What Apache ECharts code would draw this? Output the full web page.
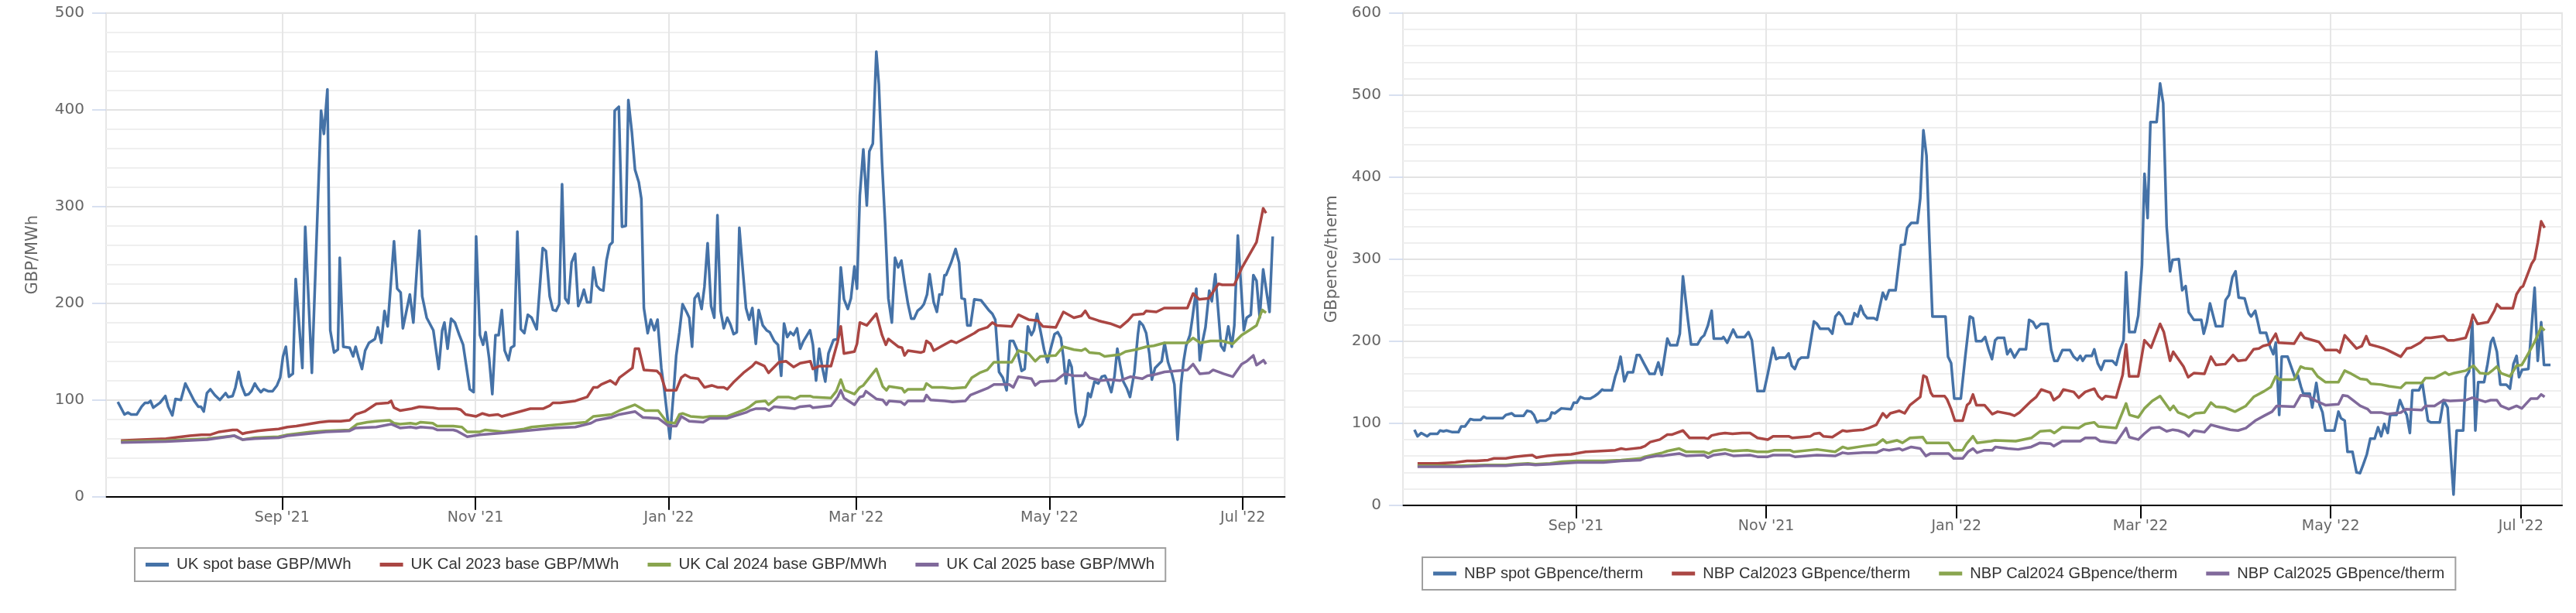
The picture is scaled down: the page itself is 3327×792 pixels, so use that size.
<!DOCTYPE html>
<html><head><meta charset="utf-8">
<script src="https://cdn.jsdelivr.net/npm/echarts@6/dist/echarts.min.js"></script>
<style>html,body{margin:0;padding:0;background:#fff}#c{width:3327px;height:792px}</style>
</head><body><div id="c"></div>
<script>
// x value of every point: days after 1 Sep 2021
const ukSpot = [[-51.8,98],[-49.7,85],[-48.6,87],[-47.6,85],[-45.8,85],[-44.3,93],[-43.2,97],[-42.2,97],[-41.5,99],[-40.6,92],[-38.5,97],[-36.8,104],[-35.9,93],[-34.6,84],[-33.6,101],[-31.9,100],[-30.5,117],[-29.1,108],[-27.7,99],[-26.4,93],[-25.6,93],[-24.7,88],[-23.7,107],[-22.6,111],[-21.2,105],[-19.6,100],[-17.8,107],[-17.0,103],[-15.6,104],[-14.7,113],[-13.7,129],[-12.8,115],[-11.6,105],[-10.5,106],[-9.7,109],[-8.6,117],[-7.7,112],[-6.7,108],[-5.8,111],[-4.4,109],[-3.0,109],[-1.6,115],[-0.6,123],[0.3,145],[1.2,155],[2.2,124],[3.4,127],[4.3,225],[6.4,133],[7.3,279],[9.4,128],[12.3,399],[13.2,375],[14.3,421],[15.2,172],[16.4,149],[17.6,152],[18.2,247],[19.3,155],[21.3,154],[22.4,145],[23.2,155],[24.1,144],[25.2,132],[26.2,151],[27.4,159],[29.3,163],[30.2,175],[31.3,159],[32.3,192],[33.3,176],[35.3,264],[36.3,215],[37.4,211],[38.1,174],[40.3,209],[41.4,180],[43.3,275],[44.2,207],[45.6,185],[47.7,172],[49.4,132],[50.5,172],[51.2,180],[52.2,153],[53.3,184],[54.5,180],[55.9,167],[57.1,157],[59.2,111],[60.4,108],[61.2,269],[62.4,167],[63.4,157],[64.2,170],[65.3,143],[66.3,106],[67.3,167],[68.3,167],[69.3,193],[70.2,151],[71.4,141],[72.2,154],[73.2,156],[74.2,274],[75.3,173],[76.4,169],[77.5,188],[78.7,185],[80.3,173],[82.2,257],[83.2,254],[84.4,207],[85.4,193],[86.4,192],[87.4,199],[88.3,323],[89.3,205],[90.3,200],[91.3,242],[92.4,251],[93.4,197],[94.3,204],[95.2,214],[96.2,201],[97.3,201],[98.2,237],[99.2,218],[100.3,214],[101.3,213],[102.3,244],[103.3,260],[104.2,263],[104.9,399],[106.2,403],[107.2,279],[108.4,280],[109.2,410],[110.3,377],[111.3,338],[112.5,325],[113.3,308],[114.1,195],[115.3,169],[116.3,183],[117.4,172],[118.4,183],[119.6,133],[120.6,109],[122.3,60],[123.5,109],[124.3,146],[125.3,170],[126.3,199],[127.7,190],[128.4,185],[129.3,155],[130.1,205],[131.2,210],[132.3,194],[133.2,217],[134.2,262],[135.3,197],[136.3,185],[137.3,291],[138.3,192],[139.3,174],[140.4,185],[141.4,178],[142.4,168],[143.4,170],[144.2,278],[145.3,234],[146.3,195],[147.3,183],[148.3,195],[149.4,158],[150.3,193],[151.6,177],[152.8,172],[153.8,170],[155.2,161],[156.4,157],[157.4,125],[158.3,179],[159.3,165],[160.3,170],[161.3,167],[162.4,174],[163.4,153],[164.3,160],[166.5,172],[167.4,157],[168.4,120],[169.4,153],[170.4,133],[171.3,119],[172.3,148],[173.9,162],[175.2,163],[176.2,237],[177.2,204],[178.4,194],[179.4,205],[180.5,238],[181.3,215],[182.2,311],[183.3,359],[184.4,301],[185.2,357],[186.3,365],[187.4,460],[188.2,426],[189.2,345],[190.2,281],[191.2,205],[192.3,180],[193.3,247],[194.3,237],[195.3,244],[196.3,221],[197.4,199],[198.4,184],[199.3,184],[200.4,192],[201.5,195],[202.4,199],[203.4,209],[204.2,230],[205.5,201],[206.5,191],[207.3,209],[208.1,209],[208.9,229],[209.4,229],[211.0,242],[212.4,256],[213.5,242],[214.3,205],[215.3,204],[216.1,177],[217.1,177],[218.3,204],[220.4,203],[222.8,193],[224.0,189],[224.9,183],[226.1,129],[227.3,123],[228.5,110],[229.5,161],[230.6,161],[231.8,152],[233.2,130],[234.2,132],[235.2,176],[236.3,167],[237.1,172],[238.1,189],[239.3,169],[240.3,152],[241.4,139],[242.4,153],[243.6,168],[244.6,170],[245.6,164],[246.4,144],[247.2,117],[248.2,141],[249.0,134],[249.5,116],[250.3,87],[251.3,72],[252.3,75],[253.3,84],[254.2,107],[255.0,103],[256.2,119],[257.4,117],[258.5,124],[259.5,125],[260.4,119],[261.5,108],[262.5,124],[263.4,153],[264.3,136],[265.3,119],[266.4,112],[267.4,103],[268.8,129],[269.9,168],[270.4,181],[271.5,177],[272.5,169],[273.5,148],[274.3,121],[275.3,133],[276.5,137],[277.4,140],[278.3,159],[279.4,139],[280.6,127],[281.4,116],[282.4,59],[283.5,116],[284.3,140],[285.1,156],[286.3,167],[287.1,185],[288.3,215],[289.4,141],[290.2,159],[291.2,175],[292.4,213],[293.2,202],[294.3,230],[296.1,156],[297.1,151],[298.4,176],[299.5,155],[300.3,177],[301.4,270],[303.3,172],[304.2,185],[305.5,188],[306.3,229],[307.3,223],[308.3,185],[309.4,235],[311.4,191],[312.4,269]];
const ukCal2023 = [[-50.8,58],[-44.1,59],[-36.6,60],[-29.1,63],[-25.4,64],[-22.6,64],[-19.8,67],[-15.6,69],[-14.2,69],[-12.5,65],[-11.4,66],[-7.7,68],[-4.8,69],[-1.1,70],[1.7,72],[4.5,73],[8.2,75],[11.9,77],[14.8,78],[18.5,78],[21.3,79],[23.2,85],[26.0,88],[29.7,96],[33.5,97],[34.4,99],[35.3,92],[37.2,89],[40.9,91],[43.3,93],[47.5,92],[49.3,91],[55.0,91],[56.3,90],[57.9,85],[61.2,83],[63.2,86],[65.3,84],[68.1,85],[69.3,83],[75.0,88],[78.3,91],[82.4,91],[84.4,94],[85.4,97],[87.7,97],[92.5,99],[96.2,103],[98.2,113],[99.5,113],[100.7,116],[103.5,120],[105.2,116],[106.4,123],[110.5,133],[111.3,153],[112.5,153],[114.1,131],[118.2,130],[119.4,126],[121.0,110],[124.3,110],[125.9,123],[127.1,126],[128.8,123],[131.2,122],[133.2,113],[135.5,115],[137.3,113],[139.3,113],[140.4,111],[142.6,119],[145.5,128],[148.3,135],[149.4,139],[152.1,135],[153.4,128],[156.7,139],[158.9,140],[161.3,134],[163.4,138],[166.6,140],[167.4,132],[169.5,135],[173.1,135],[175.2,160],[176.2,176],[177.2,148],[180.5,150],[181.3,158],[182.2,180],[184.4,177],[187.4,189],[189.2,167],[190.4,157],[191.2,163],[194.3,155],[195.5,154],[196.3,146],[197.4,151],[201.5,149],[202.4,150],[203.2,161],[204.5,158],[205.5,151],[208.2,156],[211.0,161],[212.6,159],[215.5,164],[218.3,169],[219.6,172],[222.4,175],[224.0,180],[225.4,177],[230.1,176],[232.2,188],[235.4,183],[238.3,182],[239.9,176],[244.0,175],[246.4,191],[249.7,185],[252.1,187],[253.3,192],[254.6,185],[257.4,182],[258.5,181],[261.1,179],[264.3,175],[266.8,182],[268.4,188],[271.7,189],[272.5,192],[275.7,191],[278.2,195],[285.5,195],[287.3,210],[289.2,204],[292.2,205],[295.3,220],[296.5,219],[300.3,219],[302.6,236],[307.3,263],[309.4,298],[310.3,293]];
const ukCal2024 = [[-50.8,57],[-36.6,58],[-23.6,60],[-15.1,63],[-12.5,59],[-8.6,61],[-1.1,62],[1.7,64],[9.2,67],[13.8,68],[21.3,69],[23.7,75],[26.9,77],[29.7,78],[33.9,79],[35.3,76],[37.2,75],[40.5,76],[42.3,75],[43.7,77],[47.5,76],[48.9,73],[54.0,73],[56.7,72],[58.4,67],[62.4,67],[64.1,69],[69.8,67],[76.3,70],[78.7,72],[85.2,74],[92.5,76],[95.8,77],[98.2,83],[103.9,85],[106.4,89],[111.3,95],[114.5,89],[118.6,89],[121.4,77],[123.9,76],[125.3,85],[126.3,86],[128.8,83],[132.8,82],[134.9,83],[140.4,83],[145.9,90],[147.5,93],[149.5,98],[152.4,99],[153.4,95],[156.4,103],[159.7,103],[161.7,101],[163.4,104],[166.5,104],[167.4,103],[173.1,102],[174.8,109],[176.2,121],[177.4,110],[180.5,106],[182.2,113],[183.3,115],[187.4,132],[189.4,114],[190.6,110],[191.4,114],[195.5,112],[196.3,108],[197.4,111],[202.4,111],[203.2,117],[204.9,113],[208.2,113],[211.4,112],[215.5,113],[217.5,123],[220.0,128],[222.4,131],[224.5,139],[230.1,139],[232.2,151],[235.4,148],[237.5,140],[239.1,145],[244.0,146],[246.3,155],[249.7,152],[252.1,151],[253.3,153],[254.6,149],[257.8,148],[259.4,145],[264.3,147],[266.0,150],[269.2,152],[272.5,155],[274.9,156],[278.3,159],[285.5,159],[287.3,164],[289.6,159],[292.8,161],[296.5,161],[299.8,158],[302.6,167],[305.0,172],[307.3,177],[309.1,193],[310.3,190]];
const ukCal2025 = [[-50.8,56],[-36.6,57],[-23.6,59],[-15.1,63],[-12.5,59],[-8.6,60],[-1.1,61],[1.7,63],[13.8,67],[21.3,68],[23.2,71],[29.7,72],[34.4,75],[37.2,71],[40.5,72],[42.3,71],[43.7,72],[47.5,71],[48.9,69],[54.0,69],[55.1,68],[58.4,62],[62.4,64],[69.8,66],[76.3,68],[86.0,71],[92.5,72],[97.4,76],[99.1,79],[103.9,82],[106.4,85],[111.3,88],[113.7,82],[118.6,81],[121.9,73],[124.3,73],[125.9,83],[128.4,78],[132.8,77],[134.9,81],[140.4,81],[146.3,87],[147.5,89],[149.5,91],[152.4,91],[153.6,89],[155.2,93],[161.7,91],[163.4,93],[166.5,94],[167.4,92],[173.1,94],[175.2,103],[176.2,110],[177.2,102],[180.5,95],[182.2,103],[183.3,104],[184.1,109],[187.4,101],[189.4,100],[190.6,95],[191.4,99],[195.1,98],[196.3,95],[197.4,99],[202.4,99],[203.2,105],[204.5,100],[209.0,99],[211.4,98],[215.5,99],[217.1,105],[222.4,112],[224.5,116],[229.3,116],[230.6,113],[232.2,124],[236.3,122],[237.5,115],[239.1,119],[244.0,120],[246.8,127],[249.7,125],[252.9,125],[253.3,128],[254.6,123],[258.2,120],[261.1,121],[264.3,120],[267.6,124],[271.3,122],[272.9,125],[274.9,126],[278.3,129],[285.5,131],[287.3,137],[289.4,127],[292.4,128],[293.6,131],[296.9,127],[299.8,124],[302.6,137],[304.2,140],[306.3,146],[307.3,136],[309.5,141],[310.3,137]];

const nbpSpot = [[-51.8,92],[-50.8,84],[-49.6,88],[-47.7,84],[-46.7,87],[-44.4,87],[-43.6,91],[-42.5,90],[-41.5,91],[-39.6,89],[-37.7,89],[-36.8,96],[-35.6,96],[-33.9,105],[-32.8,104],[-30.6,104],[-29.6,108],[-28.7,106],[-27.3,106],[-26.3,106],[-23.5,106],[-22.5,110],[-20.6,112],[-19.7,109],[-16.8,109],[-15.7,115],[-14.4,114],[-13.5,110],[-12.5,101],[-11.6,103],[-9.7,103],[-8.4,106],[-7.8,113],[-6.8,112],[-4.7,118],[-1.6,117],[-0.7,125],[0.3,125],[1.4,132],[2.7,130],[4.6,130],[6.0,133],[7.1,136],[8.4,141],[9.0,140],[11.5,140],[12.6,157],[13.4,166],[14.3,181],[15.5,151],[16.6,162],[18.3,162],[19.5,183],[20.4,183],[21.9,172],[23.6,160],[25.2,160],[26.4,174],[27.5,159],[29.3,203],[30.2,195],[32.4,195],[33.3,209],[34.3,279],[35.9,226],[36.9,196],[39.0,196],[40.2,204],[41.1,207],[42.3,219],[43.5,237],[44.2,203],[46.8,203],[47.3,205],[48.5,198],[50.4,214],[51.6,205],[54.1,205],[55.3,211],[56.4,201],[58.2,139],[60.3,139],[61.5,160],[63.2,192],[64.2,178],[65.3,180],[67.2,180],[68.2,185],[69.2,170],[70.2,166],[71.3,177],[72.3,180],[74.4,180],[76.3,224],[77.3,221],[78.3,215],[81.0,215],[82.2,209],[83.2,230],[84.3,235],[85.4,230],[86.4,221],[88.4,221],[89.3,234],[90.3,230],[91.3,243],[92.3,233],[93.4,228],[95.5,228],[96.5,226],[98.4,259],[99.4,251],[100.4,262],[102.5,262],[104.2,317],[105.4,318],[106.2,338],[107.5,344],[109.5,344],[110.4,374],[111.4,457],[112.4,426],[113.3,326],[114.3,230],[118.5,230],[119.3,181],[120.3,173],[121.3,130],[123.4,130],[124.8,180],[126.3,230],[127.3,228],[128.3,200],[130.1,200],[131.2,205],[132.3,190],[133.4,178],[134.4,201],[135.2,204],[137.3,204],[138.3,184],[139.3,190],[140.6,180],[142.2,190],[144.3,190],[145.3,226],[146.6,223],[147.6,216],[149.1,221],[151.3,221],[152.4,189],[153.4,176],[154.4,176],[156.0,189],[158.4,189],[159.6,181],[160.8,177],[161.7,182],[162.5,176],[163.5,182],[165.4,182],[166.2,190],[167.3,173],[168.4,165],[169.5,176],[172.0,176],[173.2,171],[174.5,190],[175.6,201],[176.4,284],[177.4,211],[179.2,211],[180.3,231],[181.5,293],[182.3,404],[183.3,350],[184.2,467],[186.2,467],[187.3,514],[188.3,490],[189.4,340],[190.5,285],[191.3,299],[193.3,300],[194.4,262],[195.5,267],[196.5,235],[198.1,226],[200.5,226],[201.3,209],[202.3,223],[203.3,246],[205.2,218],[207.3,218],[208.3,250],[209.4,256],[210.5,278],[211.5,285],[212.5,253],[214.4,252],[215.7,234],[216.5,230],[217.8,237],[218.6,224],[219.4,210],[221.3,210],[222.5,194],[223.6,184],[224.4,198],[225.5,110],[226.3,181],[228.2,181],[229.4,168],[230.7,154],[231.5,158],[232.5,144],[233.2,136],[235.3,136],[236.1,119],[237.4,149],[238.4,123],[239.4,113],[240.3,91],[243.2,91],[244.5,114],[245.3,106],[246.5,103],[247.4,65],[249.0,65],[250.3,40],[251.4,39],[252.5,50],[253.6,62],[254.7,81],[256.1,81],[257.2,95],[258.2,84],[259.2,99],[260.3,88],[261.1,110],[263.1,110],[264.2,128],[265.3,118],[266.4,110],[267.4,88],[268.2,140],[270.3,140],[271.4,149],[273.2,103],[274.1,101],[277.0,101],[278.2,128],[279.5,119],[281.4,13],[282.4,91],[284.5,91],[285.3,156],[286.4,163],[287.4,224],[288.4,91],[289.3,150],[291.2,150],[292.3,172],[293.4,199],[294.1,204],[295.3,187],[296.4,147],[298.3,147],[299.5,142],[300.6,172],[301.6,182],[302.4,156],[303.4,165],[305.4,166],[307.4,265],[308.4,176],[309.5,223],[310.4,171],[312.5,171]];
const nbpCal2023 = [[-50.8,51],[-44.4,51],[-38.7,52],[-34.9,54],[-32.0,54],[-28.2,55],[-26.3,57],[-22.5,57],[-19.7,59],[-16.8,60],[-14.0,61],[-12.7,58],[-11.3,59],[-9.2,60],[-6.4,61],[-1.6,62],[3.1,65],[7.9,66],[12.6,67],[14.5,69],[16.0,68],[20.7,70],[22.1,72],[23.8,77],[26.9,80],[29.3,86],[30.7,86],[34.3,91],[36.4,82],[41.1,82],[42.3,81],[43.5,85],[45.9,87],[47.8,88],[50.2,87],[53.3,88],[55.8,88],[56.6,86],[58.2,82],[61.5,80],[63.2,84],[68.2,84],[69.4,82],[75.2,84],[76.4,87],[78.1,88],[79.3,84],[82.2,83],[85.5,91],[86.8,90],[88.9,91],[92.2,92],[93.8,94],[96.3,98],[98.4,112],[99.6,107],[100.8,112],[103.7,115],[105.4,112],[107.1,122],[110.4,132],[111.4,158],[112.4,156],[113.8,137],[114.5,133],[118.2,133],[119.0,129],[120.3,117],[121.5,103],[124.0,103],[125.4,122],[126.3,125],[127.3,135],[128.4,122],[131.0,122],[133.5,111],[135.2,114],[139.3,111],[140.6,109],[142.2,113],[146.0,127],[147.6,132],[149.2,141],[152.1,137],[153.2,128],[155.0,133],[156.3,141],[159.6,138],[161.2,131],[163.3,138],[166.2,142],[167.5,133],[168.7,129],[169.8,133],[173.2,131],[175.3,159],[176.4,196],[177.4,157],[180.3,157],[182.3,201],[184.4,192],[187.3,221],[188.5,211],[190.5,176],[191.5,187],[194.8,169],[196.3,156],[198.1,161],[201.5,160],[203.6,181],[205.2,171],[208.2,172],[210.7,183],[212.3,176],[214.8,177],[217.3,190],[219.0,191],[220.3,194],[222.3,196],[224.4,209],[225.3,198],[230.3,197],[232.4,210],[233.6,204],[238.2,199],[240.3,189],[244.0,189],[244.9,186],[246.5,207],[250.3,191],[252.0,194],[253.4,206],[254.5,196],[257.4,193],[259.1,191],[260.3,189],[264.5,181],[266.4,191],[267.8,192],[270.7,198],[272.4,204],[274.1,204],[278.2,206],[279.5,201],[281.6,201],[285.3,204],[286.8,220],[287.6,232],[289.1,221],[292.4,223],[294.5,237],[295.3,245],[296.6,240],[300.4,240],[301.6,257],[302.9,265],[303.7,267],[306.4,294],[307.4,300],[308.4,320],[309.5,346],[310.6,338]];
const nbpCal2024 = [[-50.8,48],[-44.4,48],[-36.8,48],[-29.2,49],[-22.5,49],[-19.7,50],[-15.4,51],[-13.0,50],[-8.3,51],[-4.5,53],[0.3,54],[5.0,54],[8.8,54],[14.5,55],[20.7,57],[22.1,59],[25.5,62],[27.8,64],[29.3,66],[33.1,69],[35.4,65],[41.1,65],[42.6,63],[44.0,66],[47.8,68],[50.2,66],[54.9,67],[58.2,65],[61.5,65],[63.6,67],[68.6,67],[69.8,65],[77.3,68],[83.1,65],[85.5,71],[87.2,69],[92.2,72],[96.3,74],[98.4,80],[99.6,76],[102.9,79],[104.7,76],[107.1,82],[111.2,83],[112.4,76],[119.5,76],[121.1,67],[124.0,67],[125.3,75],[127.3,84],[128.6,76],[133.1,78],[134.4,79],[141.0,78],[146.0,82],[148.8,90],[152.1,91],[153.4,88],[155.9,95],[161.2,94],[163.3,99],[166.2,101],[167.5,96],[173.2,94],[176.4,124],[177.5,110],[180.3,107],[182.3,118],[184.8,127],[187.3,133],[190.5,116],[191.6,121],[193.1,113],[195.2,110],[196.5,107],[198.6,112],[201.5,113],[203.6,125],[205.2,120],[208.2,119],[211.3,114],[214.8,121],[217.3,132],[220.7,139],[222.8,144],[224.4,157],[225.7,153],[230.3,153],[232.4,169],[233.6,167],[236.1,166],[237.8,157],[240.3,150],[244.5,150],[246.5,164],[248.2,161],[251.5,154],[253.6,153],[254.9,148],[258.2,147],[260.7,145],[264.5,143],[266.1,149],[271.2,149],[272.4,155],[275.3,155],[278.7,162],[279.9,159],[281.6,161],[285.3,164],[287.8,170],[289.9,161],[292.4,160],[294.1,165],[295.3,169],[296.6,161],[299.5,157],[301.6,170],[303.3,171],[305.4,185],[307.4,199],[309.5,217],[310.6,213]];
const nbpCal2025 = [[-50.8,47],[-44.4,47],[-36.8,47],[-29.2,48],[-22.5,48],[-19.7,49],[-15.4,50],[-13.0,49],[-8.3,50],[-4.5,51],[0.3,52],[8.8,52],[14.5,54],[20.7,55],[22.6,58],[25.9,60],[27.8,60],[29.3,61],[33.1,63],[35.4,60],[41.1,61],[42.3,58],[44.0,61],[47.8,63],[50.6,60],[55.8,61],[58.2,59],[61.5,59],[63.2,61],[68.6,61],[70.2,59],[77.3,61],[83.1,60],[85.5,64],[87.2,63],[92.2,64],[96.3,64],[98.6,68],[100.4,67],[103.7,69],[104.7,67],[107.5,71],[110.4,69],[112.2,60],[113.7,63],[119.5,63],[121.1,57],[124.0,57],[125.7,65],[127.3,69],[128.6,64],[131.0,67],[133.5,67],[134.5,71],[138.5,69],[141.8,68],[146.0,71],[148.8,76],[152.1,75],[153.2,72],[155.9,78],[161.7,78],[163.3,82],[166.6,82],[168.1,78],[173.2,76],[176.4,94],[177.4,83],[180.3,80],[182.2,87],[184.4,94],[187.1,95],[189.4,90],[191.4,92],[193.1,91],[195.2,88],[196.5,84],[198.1,91],[201.5,89],[203.6,98],[206.5,95],[209.8,92],[212.3,91],[214.8,94],[217.8,103],[220.7,109],[223.2,114],[224.7,121],[230.3,120],[232.4,134],[234.9,133],[237.4,127],[240.3,122],[244.5,123],[245.9,134],[247.4,133],[251.5,121],[253.9,117],[254.9,113],[258.2,113],[260.3,111],[264.5,113],[266.1,117],[271.2,116],[272.4,121],[275.3,121],[278.2,128],[280.3,127],[285.3,128],[287.4,131],[291.6,126],[293.3,128],[295.3,128],[296.6,121],[299.1,117],[301.6,121],[303.3,118],[306.2,130],[308.3,130],[309.5,135],[310.6,132]];

const ukNames = ['UK spot base GBP/MWh','UK Cal 2023 base GBP/MWh','UK Cal 2024 base GBP/MWh','UK Cal 2025 base GBP/MWh'];
const nbpNames = ['NBP spot GBpence/therm','NBP Cal2023 GBpence/therm','NBP Cal2024 GBpence/therm','NBP Cal2025 GBpence/therm'];
const monthTicks = ['2021-09-01','2021-11-01','2022-01-01','2022-03-01','2022-05-01','2022-07-01'];
const xRangeDays = [-55.5, 316.2];
const ukYTicks = [0, 500, 100];
const nbpYTicks = [0, 600, 100];

const BASE = Date.UTC(2021, 8, 1), DAY = 86400000;
const toTime = arr => arr.map(p => [BASE + p[0] * DAY, p[1]]);
const tickTimes = monthTicks.map(s => Date.parse(s + 'T00:00:00Z'));
const MON = ['Jan','Feb','Mar','Apr','May','Jun','Jul','Aug','Sep','Oct','Nov','Dec'];
const fmtMonth = v => { const d = new Date(v); return MON[d.getUTCMonth()] + " '" + String(d.getUTCFullYear()).slice(2); };
const colors = ['#4572A7','#AA4643','#89A54E','#80699B'];
const AX_FONT = 'DejaVu Sans';

function xAxis(gi) {
  return {
    type: 'value', gridIndex: gi, scale: true,
    min: BASE + xRangeDays[0] * DAY, max: BASE + xRangeDays[1] * DAY,
    axisLine: { show: true, onZero: false, lineStyle: { color: '#000', width: 2 } },
    axisTick: { show: true, customValues: tickTimes, length: 17, lineStyle: { color: '#000', width: 2 } },
    axisLabel: { customValues: tickTimes, formatter: fmtMonth, fontFamily: AX_FONT, fontSize: 19, color: '#666', margin: 18, showMinLabel: true, showMaxLabel: true },
    splitLine: { show: true, lineStyle: { color: '#e6e6e6', width: 2 } },
    minorSplitLine: { show: false }
  };
}
function yAxis(gi, t, name, gap) {
  return {
    type: 'value', gridIndex: gi, min: t[0], max: t[1], interval: t[2],
    name: name, nameLocation: 'middle', nameGap: gap, nameRotate: 90,
    nameTextStyle: { fontFamily: AX_FONT, fontSize: 21, color: '#666' },
    axisLine: { show: false },
    axisTick: { show: true, length: 18, lineStyle: { color: '#ccd6eb', width: 1.5 } },
    axisLabel: { fontFamily: AX_FONT, fontSize: 20, color: '#666', margin: 28 },
    splitLine: { show: true, lineStyle: { color: '#e3e3e3', width: 2 } },
    minorTick: { show: false, splitNumber: 5 },
    minorSplitLine: { show: true, lineStyle: { color: '#efefef', width: 2 } }
  };
}
function legend(names, left, top, fs) {
  return {
    data: names, left: left, top: top, orient: 'horizontal',
    icon: 'rect', itemWidth: 30, itemHeight: 5, itemGap: 37,
    padding: [11, 14, 11, 14], borderColor: '#a0a0a0', borderWidth: 2, backgroundColor: '#fff',
    textStyle: { fontFamily: 'Liberation Sans', fontSize: fs, color: '#333', padding: [0, 0, 0, 5] }
  };
}
function line(name, data, gi, ci) {
  return {
    type: 'line', name: name, data: toTime(data), xAxisIndex: gi, yAxisIndex: gi,
    showSymbol: false, symbol: 'none', smooth: false,
    lineStyle: { color: colors[ci], width: 3.5, join: 'round' },
    itemStyle: { color: colors[ci] },
    emphasis: { disabled: true }
  };
}

const chart = echarts.init(document.getElementById('c'), null, { renderer: 'canvas' });
chart.setOption({
  animation: false,
  backgroundColor: '#fff',
  grid: [
    { left: 137, top: 16.7, width: 1522.3, height: 625, show: true, borderColor: '#e6e6e6', borderWidth: 2, outerBoundsMode: 'none' },
    { left: 1811.9, top: 16.7, width: 1497.1, height: 636, show: true, borderColor: '#e6e6e6', borderWidth: 2, outerBoundsMode: 'none' }
  ],
  xAxis: [xAxis(0), xAxis(1)],
  yAxis: [yAxis(0, ukYTicks, 'GBP/MWh', 84), yAxis(1, nbpYTicks, 'GBpence/therm', 81)],
  legend: [legend(ukNames, 174, 708, 20.5), legend(nbpNames, 1837, 720, 20.1)],
  series: [
    line(ukNames[0], ukSpot, 0, 0), line(ukNames[1], ukCal2023, 0, 1), line(ukNames[2], ukCal2024, 0, 2), line(ukNames[3], ukCal2025, 0, 3),
    line(nbpNames[0], nbpSpot, 1, 0), line(nbpNames[1], nbpCal2023, 1, 1), line(nbpNames[2], nbpCal2024, 1, 2), line(nbpNames[3], nbpCal2025, 1, 3)
  ]
});
</script></body></html>
